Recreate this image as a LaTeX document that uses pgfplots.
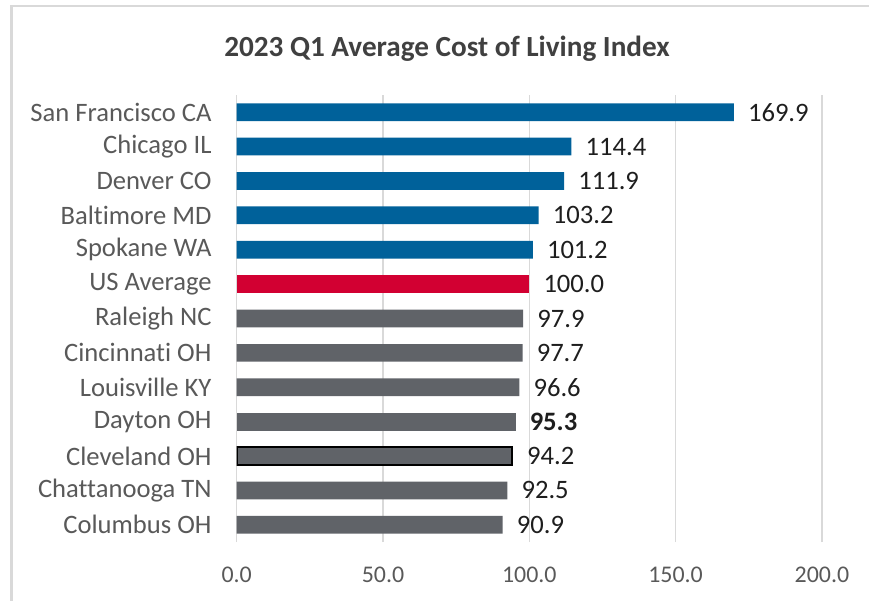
\documentclass[border=0pt]{standalone}
\usepackage{pgfplots}
\pgfplotsset{compat=1.18}
\usepackage{fontspec}
\setmainfont{Carlito}[Ligatures={NoCommon}]
\definecolor{barblue}{RGB}{0,97,154}
\definecolor{barred}{RGB}{210,0,50}
\definecolor{bargray}{RGB}{96,99,104}
\definecolor{gridgray}{RGB}{217,217,217}
\definecolor{labgray}{RGB}{89,89,89}
\definecolor{valcol}{RGB}{30,30,30}
\definecolor{titlecol}{RGB}{64,64,64}
\begin{document}
\begin{tikzpicture}
\useasboundingbox (0,0) rectangle (869bp,601bp);
\draw[gridgray, line width=2.5bp] (11.5bp,0) -- (11.5bp,595bp) -- (869bp,595bp);
\node[font=\fontsize{29.3}{34}\selectfont\bfseries, text=titlecol, anchor=base, inner sep=0pt] at (447bp,544.5bp) {2023 Q1 Average Cost of Living Index};
\begin{axis}[
  at={(236.7bp,59bp)}, anchor=south west,
  scale only axis, width=585.2bp, height=447bp,
  xmin=0, xmax=200, ymin=-0.5, ymax=12.5,
  xtick={0,50,100,150,200},
  ytick={0,1,2,3,4,5,6,7,8,9,10,11,12},
  yticklabels={Columbus OH, Chattanooga TN, Cleveland OH, Dayton OH, Louisville KY, Cincinnati OH, Raleigh NC, US Average, Spokane WA, Baltimore MD, Denver CO, Chicago IL, San Francisco CA},
  axis line style={draw=none},
  major tick length=0pt,
  xmajorgrids,
  grid style={gridgray, line width=1.4bp},
  /pgf/number format/assume math mode=true,
  xticklabel style={/pgf/number format/fixed, /pgf/number format/fixed zerofill, /pgf/number format/precision=1, font=\fontsize{24}{28}\selectfont, text=labgray, anchor=north, inner sep=0pt, yshift=-24.5bp},
  yticklabel style={font=\fontsize{26.7}{30}\selectfont, text=labgray, anchor=east, inner sep=0pt, xshift=-25bp},
  xbar, bar width=17.7bp,
  nodes near coords,
  point meta=x,
  nodes near coords style={/pgf/number format/fixed, /pgf/number format/fixed zerofill, /pgf/number format/precision=1, font=\fontsize{26.7}{30}\selectfont, text=valcol, anchor=west, inner sep=0pt, xshift=14bp},
]
\addplot[bar shift=0pt, fill=barblue, draw=none] coordinates {(169.9,12) (114.4,11) (111.9,10) (103.2,9) (101.2,8)};
\addplot[bar shift=0pt, fill=barred, draw=none] coordinates {(100.0,7)};
\addplot[bar shift=0pt, fill=bargray, draw=none] coordinates {(97.9,6) (97.7,5) (96.6,4) (92.5,1) (90.9,0)};
\addplot[bar shift=0pt, fill=bargray, draw=none, nodes near coords style={font=\fontsize{26.7}{30}\selectfont\bfseries}] coordinates {(95.3,3)};
\addplot[bar shift=0pt, fill=bargray, draw=black, line width=1.8bp] coordinates {(94.2,2)};
\end{axis}
\end{tikzpicture}
\end{document}
